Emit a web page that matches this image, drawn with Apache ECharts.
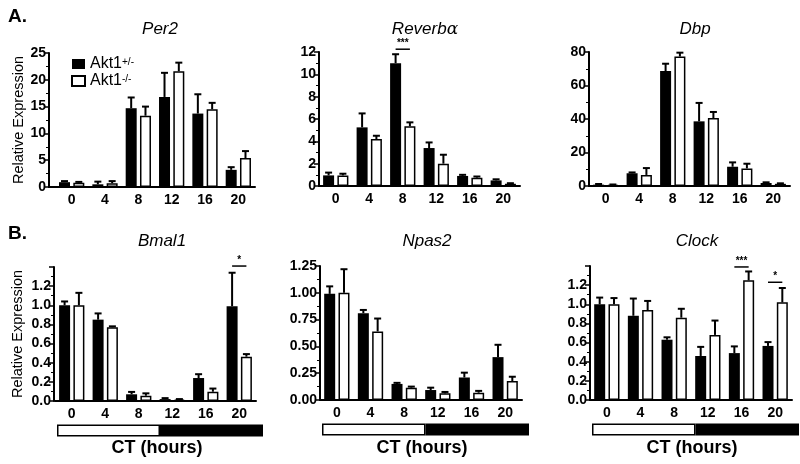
<!DOCTYPE html>
<html><head><meta charset="utf-8">
<script src="https://cdn.jsdelivr.net/npm/echarts@6/dist/echarts.min.js"></script>
<style>html,body{margin:0;padding:0;background:#fff}#c{width:800px;height:464px}</style>
</head><body><div id="c"></div>
<script>
// ---- data ----
const cts = ['0', '4', '8', '12', '16', '20'];
const groups = ['Akt1+/-', 'Akt1-/-'];

const per2Het = [0.9, 0.5, 14.7, 16.8, 13.7, 3.2];
const per2HetErr = [0.2, 0.5, 2.0, 4.5, 3.6, 0.5];
const per2Ko = [0.8, 0.7, 13.3, 21.6, 14.5, 5.4];
const per2KoErr = [0.15, 0.4, 1.7, 1.6, 1.2, 1.3];

const reverbHet = [0.95, 5.25, 11.0, 3.4, 0.9, 0.5];
const reverbHetErr = [0.25, 1.25, 0.8, 0.5, 0.1, 0.1];
const reverbKo = [0.95, 4.2, 5.35, 2.0, 0.75, 0.2];
const reverbKoErr = [0.15, 0.3, 0.35, 0.8, 0.1, 0.05];

const dbpHet = [0.8, 7.6, 68.6, 38.6, 11.5, 1.8];
const dbpHetErr = [0.4, 0.5, 4.4, 11.0, 2.6, 0.4];
const dbpKo = [0.6, 6.6, 77.3, 40.6, 10.5, 1.3];
const dbpKoErr = [0.3, 4.1, 2.3, 3.6, 2.8, 0.3];

const bmalHet = [1.0, 0.85, 0.07, 0.02, 0.24, 0.99];
const bmalHetErr = [0.04, 0.065, 0.025, 0.01, 0.04, 0.35];
const bmalKo = [1.0, 0.77, 0.055, 0.015, 0.097, 0.463];
const bmalKoErr = [0.13, 0.01, 0.025, 0.005, 0.033, 0.027];

const npasHet = [0.99, 0.81, 0.15, 0.093, 0.21, 0.40];
const npasHetErr = [0.07, 0.03, 0.01, 0.022, 0.045, 0.115];
const npasKo = [1.0, 0.64, 0.115, 0.062, 0.068, 0.177];
const npasKoErr = [0.22, 0.12, 0.01, 0.013, 0.017, 0.04];

const clockHet = [1.0, 0.88, 0.63, 0.46, 0.49, 0.565];
const clockHetErr = [0.07, 0.18, 0.025, 0.095, 0.07, 0.04];
const clockKo = [1.0, 0.94, 0.86, 0.68, 1.25, 1.02];
const clockKoErr = [0.065, 0.095, 0.093, 0.15, 0.093, 0.15];

// significance: [category index, line level, stars]
const reverbSig = [[2, 12.25, '***']];
const bmalSig = [[5, 1.41, '*']];
const clockSig = [[4, 1.39, '***'], [5, 1.23, '*']];

// light/dark bar (CT hours): subjective day, subjective night
const lightDark = [12, 12];

// ---- layout ----
const FONT = '"Liberation Sans", Arial, sans-serif';
const panels = [
  {title: '{i|Per2}', het: per2Het, hetErr: per2HetErr, ko: per2Ko, koErr: per2KoErr, sig: [],
   max: 25, interval: 5, dec: 0, grid: {left: 55, top: 53, width: 200, height: 134}, yOff: 6, yName: 'Relative Expression', nameGap: 22, tx: 155, ty: 16},
  {title: '{i|Reverb}{g|α}', het: reverbHet, hetErr: reverbHetErr, ko: reverbKo, koErr: reverbKoErr, sig: reverbSig,
   max: 12, interval: 2, dec: 0, grid: {left: 319, top: 52, width: 201, height: 134}, yOff: 0, tx: 420, ty: 16},
  {title: '{i|Dbp}', het: dbpHet, hetErr: dbpHetErr, ko: dbpKo, koErr: dbpKoErr, sig: [],
   max: 80, interval: 20, dec: 0, grid: {left: 589, top: 52, width: 201, height: 134}, yOff: 0, tx: 690, ty: 16},
  {title: '{i|Bmal1}', het: bmalHet, hetErr: bmalHetErr, ko: bmalKo, koErr: bmalKoErr, sig: bmalSig,
   max: 1.4, interval: 0.2, dec: 1, hideTop: true, grid: {left: 55, top: 267, width: 201, height: 134}, yOff: 1, yName: 'Relative Expression', nameGap: 29, tx: 157, ty: 228},
  {title: '{i|Npas2}', het: npasHet, hetErr: npasHetErr, ko: npasKo, koErr: npasKoErr, sig: [],
   max: 1.25, interval: 0.25, dec: 2, grid: {left: 320, top: 266, width: 202, height: 134}, yOff: 0, tx: 422, ty: 228},
  {title: '{i|Clock}', het: clockHet, hetErr: clockHetErr, ko: clockKo, koErr: clockKoErr, sig: clockSig,
   max: 1.4, interval: 0.2, dec: 1, hideTop: true, grid: {left: 590, top: 266, width: 202, height: 134}, yOff: 0, tx: 692, ty: 228}
];
const ldGrids = [
  {left: 57, top: 424, width: 206, height: 13, cx: 157},
  {left: 322, top: 423, width: 207, height: 13, cx: 422},
  {left: 592, top: 423, width: 207, height: 13, cx: 692}
];

const BW = 11, GAP = 3.3, OFF = (BW + GAP) / 2;

function errSeries(i, vals, errs, off) {
  return {
    type: 'custom', xAxisIndex: i, yAxisIndex: i, z: 5, silent: true,
    data: vals.map((v, j) => [j, v, errs[j]]),
    encode: {x: 0, y: 1},
    renderItem: function (params, api) {
      const x = api.value(0), v = api.value(1), e = api.value(2);
      const p0 = api.coord([x, v]), p1 = api.coord([x, v + e]);
      const cx = p0[0] + off;
      return {type: 'group', children: [
        {type: 'line', shape: {x1: cx, y1: p0[1], x2: cx, y2: p1[1]}, style: {stroke: '#000', lineWidth: 2}},
        {type: 'line', shape: {x1: cx - 3.5, y1: p1[1], x2: cx + 3.5, y2: p1[1]}, style: {stroke: '#000', lineWidth: 2}}
      ]};
    }
  };
}
function sigSeries(i, sig) {
  return {
    type: 'custom', xAxisIndex: i, yAxisIndex: i, z: 6, silent: true, clip: false,
    data: sig,
    encode: {x: 0, y: 1},
    renderItem: function (params, api) {
      const p = api.coord([api.value(0), api.value(1)]);
      const txt = sig[params.dataIndex][2];
      return {type: 'group', children: [
        {type: 'line', shape: {x1: p[0] - OFF, y1: p[1], x2: p[0] + OFF, y2: p[1]}, style: {stroke: '#000', lineWidth: 1.5}},
        {type: 'text', style: {text: txt, x: p[0], y: p[1] - 1, textAlign: 'center', textVerticalAlign: 'bottom', font: 'bold 10px ' + FONT, fill: '#000'}}
      ]};
    }
  };
}

const grid = [], xAxis = [], yAxis = [], series = [], title = [], graphic = [];
panels.forEach((p, i) => {
  grid.push(p.grid);
  xAxis.push({
    type: 'category', gridIndex: i, data: cts,
    axisLine: {lineStyle: {color: '#000', width: 2}},
    axisTick: {alignWithLabel: true, length: 4, lineStyle: {color: '#000', width: 1.5}},
    axisLabel: {color: '#000', fontFamily: FONT, fontWeight: 'bold', fontSize: 14, margin: 6}
  });
  yAxis.push({
    type: 'value', gridIndex: i, min: 0, max: p.max, interval: p.interval, offset: p.yOff,
    name: p.yName || '', nameLocation: 'middle', nameGap: p.nameGap || 20,
    nameTextStyle: {color: '#000', fontFamily: FONT, fontSize: 14.5},
    axisLine: {show: true, lineStyle: {color: '#000', width: 2}},
    axisTick: {show: true, length: 5, lineStyle: {color: '#000', width: 1.5}},
    minorTick: {show: true, splitNumber: 2, length: 3, lineStyle: {color: '#000', width: 1}},
    splitLine: {show: false},
    axisLabel: {color: '#000', fontFamily: FONT, fontWeight: 'bold', fontSize: 14, margin: 3,
      formatter: v => (p.hideTop && v > p.max - 1e-9) ? '' : v.toFixed(p.dec)}
  });
  series.push({
    type: 'bar', name: groups[0], xAxisIndex: i, yAxisIndex: i, data: p.het,
    barWidth: BW, barGap: '30%', itemStyle: {color: '#000'}, silent: true
  });
  series.push({
    type: 'bar', name: groups[1], xAxisIndex: i, yAxisIndex: i, data: p.ko,
    barWidth: BW, barGap: '30%', itemStyle: {color: '#fff', borderColor: '#000', borderWidth: 1.5}, silent: true
  });
  series.push(errSeries(i, p.het, p.hetErr, -OFF));
  series.push(errSeries(i, p.ko, p.koErr, OFF));
  if (p.sig.length) series.push(sigSeries(i, p.sig));
  title.push({
    text: p.title, left: p.tx, top: p.ty, textAlign: 'center',
    textStyle: {fontWeight: 'normal', rich: {
      i: {fontFamily: FONT, fontStyle: 'italic', fontWeight: 'normal', fontSize: 17, color: '#000'},
      g: {fontFamily: '"DejaVu Serif", serif', fontStyle: 'italic', fontWeight: 'normal', fontSize: 17, color: '#000'}
    }}
  });
});

// light/dark bars
ldGrids.forEach((g, k) => {
  const gi = panels.length + k;
  grid.push({left: g.left, top: g.top, width: g.width, height: g.height});
  xAxis.push({type: 'value', gridIndex: gi, min: 0, max: lightDark[0] + lightDark[1], show: false});
  yAxis.push({type: 'category', gridIndex: gi, data: ['LD'], show: false});
  series.push({type: 'bar', xAxisIndex: gi, yAxisIndex: gi, stack: 'ld' + k, data: [lightDark[0]], barWidth: g.height - 1,
    itemStyle: {color: '#fff', borderColor: '#000', borderWidth: 1.5}, silent: true});
  series.push({type: 'bar', xAxisIndex: gi, yAxisIndex: gi, stack: 'ld' + k, data: [lightDark[1]], barWidth: g.height - 1,
    itemStyle: {color: '#000', borderColor: '#000', borderWidth: 1.5}, silent: true});
  graphic.push({type: 'text', x: g.cx, y: 448, style: {text: 'CT (hours)', font: 'bold 18px ' + FONT, fill: '#000', textAlign: 'center', textVerticalAlign: 'middle'}});
});

title.push({text: 'A.', left: 3, top: 2, textStyle: {fontFamily: FONT, fontWeight: 'bold', fontSize: 19, color: '#000'}});
title.push({text: 'B.', left: 3, top: 219, textStyle: {fontFamily: FONT, fontWeight: 'bold', fontSize: 19, color: '#000'}});

// baseline piece joining the offset y axis of the first panel
graphic.push({type: 'line', shape: {x1: 48, y1: 187, x2: 56, y2: 187}, style: {stroke: '#000', lineWidth: 2}});

const chart = echarts.init(document.getElementById('c'), null, {renderer: 'canvas'});
chart.setOption({
  animation: false,
  backgroundColor: '#fff',
  title: title,
  grid: grid, xAxis: xAxis, yAxis: yAxis, series: series, graphic: graphic,
  legend: {
    left: 66, top: 51, orient: 'vertical', itemWidth: 13, itemHeight: 10, itemGap: 1,
    icon: 'rect', selectedMode: false, data: groups,
    formatter: n => n === groups[0] ? '{b|Akt1}{s|+/-}' : '{b|Akt1}{s|-/-}',
    textStyle: {rich: {
      b: {fontFamily: FONT, fontSize: 16, color: '#000', lineHeight: 14},
      s: {fontFamily: FONT, fontSize: 10, color: '#000', verticalAlign: 'top', lineHeight: 14}
    }}
  }
});
</script></body></html>
